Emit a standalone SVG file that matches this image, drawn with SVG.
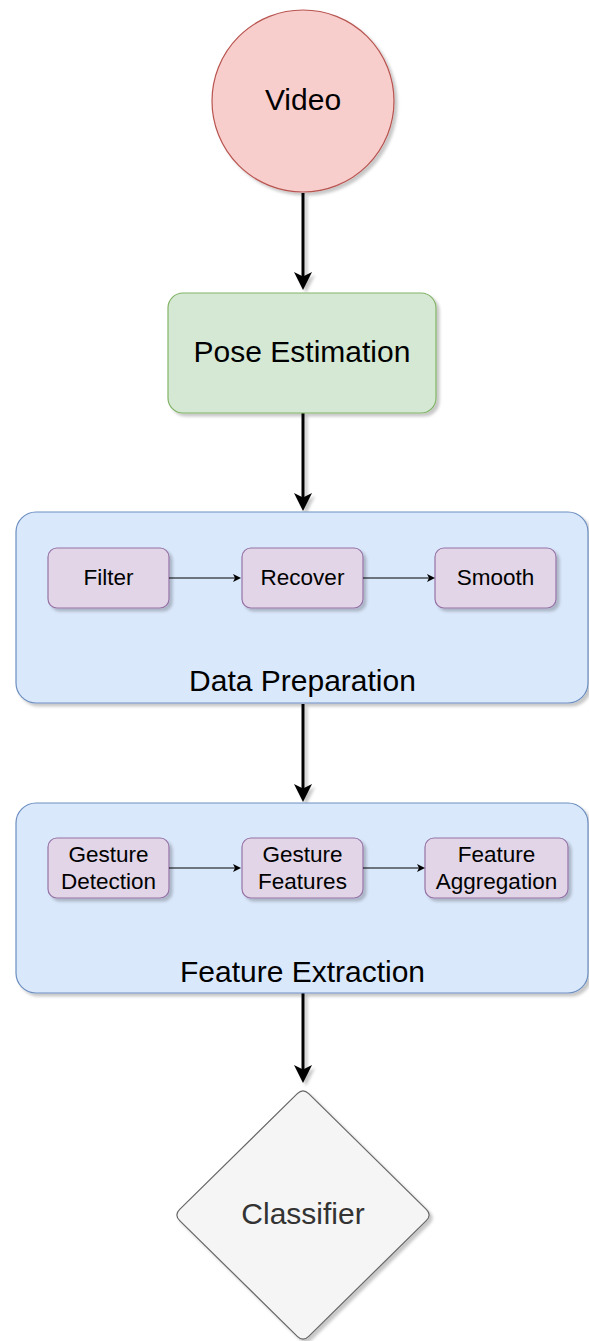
<svg xmlns="http://www.w3.org/2000/svg" width="589" height="1341" viewBox="0 0 589 1341">
  <style>
    .t { font-family: "Liberation Sans", Arial, sans-serif; text-anchor: middle; fill: #000; }
    .big { font-size: 30px; }
    .small { font-size: 22.5px; }
    .main { stroke: #000; stroke-width: 3; fill: none; }
    .thin { stroke: #000; stroke-width: 1.2; fill: none; }
  </style>
  <defs>
    <filter id="sh" x="-10%" y="-10%" width="130%" height="130%">
      <feDropShadow dx="3" dy="3" stdDeviation="1.5" flood-color="#000" flood-opacity="0.22"/>
    </filter>
    <filter id="shLine" filterUnits="userSpaceOnUse" x="0" y="0" width="589" height="1341">
      <feDropShadow dx="3" dy="3" stdDeviation="1.5" flood-color="#000" flood-opacity="0.22"/>
    </filter>
    <marker id="bigArrow" viewBox="0 0 18 18" markerWidth="18" markerHeight="18" refX="10" refY="9" orient="auto" markerUnits="userSpaceOnUse">
      <path d="M0,0 L18,9 L0,18 L4.5,9 Z" fill="#000"/>
    </marker>
    <marker id="smallArrow" viewBox="0 0 8 8" markerWidth="8" markerHeight="8" refX="4" refY="4" orient="auto" markerUnits="userSpaceOnUse">
      <path d="M0,0 L8,4 L0,8 L2,4 Z" fill="#000"/>
    </marker>
  </defs>
  <rect width="589" height="1341" fill="#fff"/>

  <g id="connectors" filter="url(#shLine)">
    <path class="main" d="M303,193 L303,282" marker-end="url(#bigArrow)"/>
    <path class="main" d="M303,413 L303,503" marker-end="url(#bigArrow)"/>
    <path class="main" d="M303,704 L303,794" marker-end="url(#bigArrow)"/>
    <path class="main" d="M303,993 L303,1075" marker-end="url(#bigArrow)"/>
  </g>

  <g id="video">
    <circle cx="303" cy="101" r="91" fill="#f8cecc" stroke="#b85450" stroke-width="1.2" filter="url(#sh)"/>
    <text class="t big" x="303" y="110">Video</text>
  </g>

  <g id="pose-estimation">
    <rect x="168" y="293" width="268" height="120" rx="15" fill="#d5e8d4" stroke="#82b366" stroke-width="1.2" filter="url(#sh)"/>
    <text class="t big" x="302" y="362">Pose Estimation</text>
  </g>

  <g id="data-preparation">
    <rect x="16" y="512" width="572" height="191" rx="20" fill="#dae8fc" stroke="#6c8ebf" stroke-width="1.2" filter="url(#sh)"/>
    <text class="t big" x="302.5" y="691">Data Preparation</text>
  </g>
  <g id="filter">
    <rect x="48" y="548" width="121" height="60" rx="9" fill="#e1d5e7" stroke="#9673a6" stroke-width="1.2" filter="url(#sh)"/>
    <text class="t small" x="108.5" y="585">Filter</text>
  </g>
  <g id="recover">
    <rect x="242" y="548" width="121" height="60" rx="9" fill="#e1d5e7" stroke="#9673a6" stroke-width="1.2" filter="url(#sh)"/>
    <text class="t small" x="302.5" y="585">Recover</text>
  </g>
  <g id="smooth">
    <rect x="435" y="548" width="121" height="60" rx="9" fill="#e1d5e7" stroke="#9673a6" stroke-width="1.2" filter="url(#sh)"/>
    <text class="t small" x="495.5" y="585">Smooth</text>
  </g>

  <g id="feature-extraction">
    <rect x="16" y="803" width="572" height="190" rx="20" fill="#dae8fc" stroke="#6c8ebf" stroke-width="1.2" filter="url(#sh)"/>
    <text class="t big" x="302.5" y="982">Feature Extraction</text>
  </g>
  <g id="gesture-detection">
    <rect x="48" y="838" width="121" height="60" rx="9" fill="#e1d5e7" stroke="#9673a6" stroke-width="1.2" filter="url(#sh)"/>
    <text class="t small" x="108.5" y="862">Gesture</text>
    <text class="t small" x="108.5" y="889">Detection</text>
  </g>
  <g id="gesture-features">
    <rect x="242" y="838" width="121" height="60" rx="9" fill="#e1d5e7" stroke="#9673a6" stroke-width="1.2" filter="url(#sh)"/>
    <text class="t small" x="302.5" y="862">Gesture</text>
    <text class="t small" x="302.5" y="889">Features</text>
  </g>
  <g id="feature-aggregation">
    <rect x="425" y="838" width="143" height="60" rx="9" fill="#e1d5e7" stroke="#9673a6" stroke-width="1.2" filter="url(#sh)"/>
    <text class="t small" x="496.5" y="862">Feature</text>
    <text class="t small" x="496.5" y="889">Aggregation</text>
  </g>

  <g id="inner-connectors">
    <path class="thin" d="M169,578 L237,578" marker-end="url(#smallArrow)"/>
    <path class="thin" d="M363,578 L431,578" marker-end="url(#smallArrow)"/>
    <path class="thin" d="M169,868 L237,868" marker-end="url(#smallArrow)"/>
    <path class="thin" d="M363,868 L421,868" marker-end="url(#smallArrow)"/>
  </g>

  <g id="classifier">
    <path d="M308.7,1093.6 L426.3,1209.4 Q432,1215 426.3,1220.6 L308.7,1336.4 Q303,1342 297.3,1336.4 L179.7,1220.6 Q174,1215 179.7,1209.4 L297.3,1093.6 Q303,1088 308.7,1093.6 Z" fill="#f5f5f5" stroke="#666666" stroke-width="1.2" filter="url(#sh)"/>
    <text class="t big" x="303" y="1224" style="fill:#333333">Classifier</text>
  </g>
</svg>
